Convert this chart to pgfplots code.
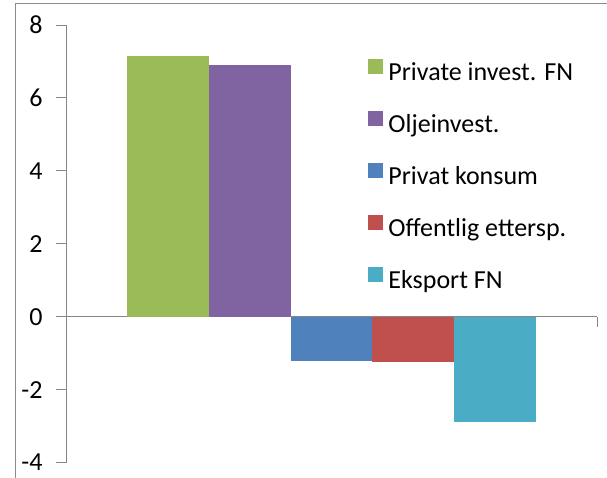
\documentclass[border=0pt]{standalone}
\usepackage{fontspec}
\setmainfont{Carlito}
\usepackage{pgfplots}
\pgfplotsset{compat=1.18}
\definecolor{cg}{HTML}{9BBB59}
\definecolor{cp}{HTML}{8064A2}
\definecolor{cb}{HTML}{4F81BD}
\definecolor{cr}{HTML}{C0504D}
\definecolor{cc}{HTML}{4BACC6}
\definecolor{axgray}{HTML}{868686}
\definecolor{framegray}{HTML}{8C8C8C}
\pgfplotsset{sqleg/.style={legend image code/.code={\fill[##1,draw=none] (0pt,0pt) rectangle (15pt,15pt);}}}
\begin{document}
\begin{tikzpicture}[x=1pt,y=1pt]
\path[use as bounding box] (0,0) rectangle (607,477);
\draw[color=framegray, line width=1pt] (15,-5) -- (15,473) -- (620,473);
\begin{axis}[at={(66pt,14.5pt)}, anchor=south west, scale only axis,
  width=531pt, height=437.5pt,
  xmin=0, xmax=1, ymin=-4, ymax=8, ytick={-4,-2,...,8},
  axis y line=left, axis x line=middle,
  axis line style={-, draw=axgray, line width=1pt},
  xtick={1}, xticklabels={}, tick align=outside, major tick length=10pt,
  tick style={draw=axgray, line width=1pt},
  ybar=0pt, bar width=81.8pt,
  font=\fontsize{26}{30}\selectfont,
  /pgf/number format/assume math mode=true,
  yticklabel style={xshift=-10pt},
  clip=false,
  legend cell align=left,
  legend style={draw=none, fill=none, at={(0.5635,0.927)}, anchor=north west,
    font=\fontsize{26}{30}\selectfont, row sep=24.5pt, column sep=5pt,
    nodes={inner sep=0pt, text height=19pt, text depth=6pt}},
]
\addplot[fill=cg, draw=none, sqleg] coordinates {(0.5,7.16)};
\addplot[fill=cp, draw=none, sqleg] coordinates {(0.5,6.91)};
\addplot[fill=cb, draw=none, sqleg] coordinates {(0.5,-1.21)};
\addplot[fill=cr, draw=none, sqleg] coordinates {(0.5,-1.23)};
\addplot[fill=cc, draw=none, sqleg] coordinates {(0.5,-2.88)};
\legend{Private invest. FN, Oljeinvest., Privat konsum, Offentlig ettersp., Eksport FN}
\end{axis}
\end{tikzpicture}
\end{document}
